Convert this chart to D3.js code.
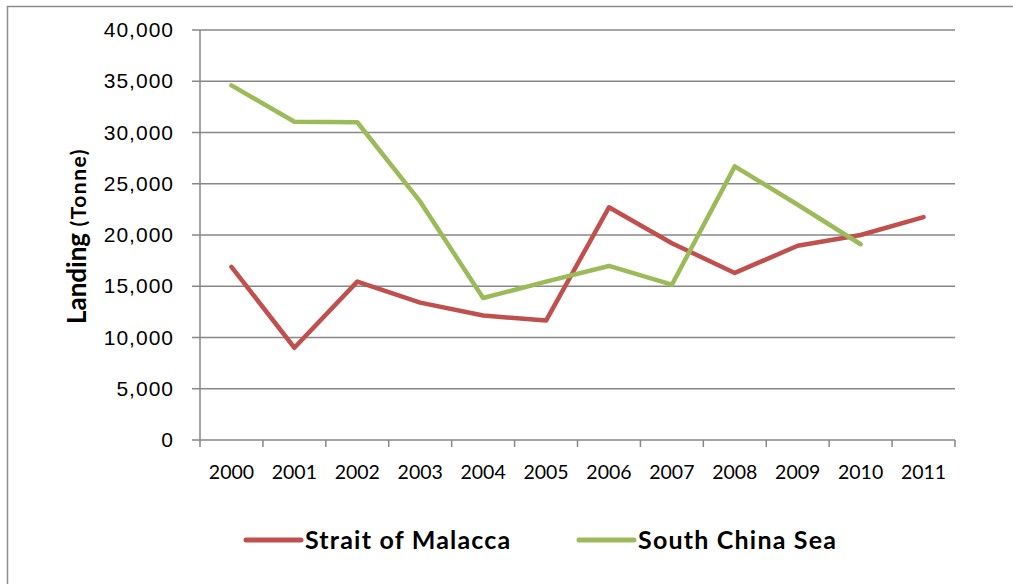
<!DOCTYPE html>
<html>
<head>
<meta charset="utf-8">
<script src="https://cdn.jsdelivr.net/npm/d3@7"></script>
<style>
  body { margin: 0; background: #fff; }
  svg { display: block; font-family: Lato, "Open Sans", sans-serif; }
</style>
</head>
<body>
<svg width="1013" height="584"></svg>
<script>
const years = ["2000", "2001", "2002", "2003", "2004", "2005", "2006", "2007", "2008", "2009", "2010", "2011"];
const malacca = [16900, 9000, 15450, 13400, 12150, 11650, 22700, 19200, 16300, 18950, 20000, 21750];
const southChina = [34600, 31050, 31000, 23250, 13850, 15450, 16980, 15150, 26700, 22950, 19100, null];
const yTicks = [0, 5000, 10000, 15000, 20000, 25000, 30000, 35000, 40000];

const series = [
  { name: "Strait of Malacca", values: malacca, color: "#C0504D" },
  { name: "South China Sea", values: southChina, color: "#9BBB59" }
];

const svg = d3.select("svg");
const width = +svg.attr("width");
const height = +svg.attr("height");
const margin = { top: 30, left: 200, right: 58, bottom: 144 };

// outer chart frame (right/bottom edges are off the picture)
svg.append("rect")
  .attr("x", 7.5).attr("y", 6.5)
  .attr("width", width + 10).attr("height", height + 10)
  .attr("fill", "none").attr("stroke", "#8c8c8c").attr("stroke-width", 1.5);

const x = d3.scaleBand()
  .domain(years)
  .range([margin.left, width - margin.right]);

const y = d3.scaleLinear()
  .domain([0, 40000])
  .range([height - margin.bottom, margin.top]);

const grey = "#878787";

// gridlines
svg.append("g")
  .selectAll("line")
  .data(yTicks)
  .join("line")
  .attr("x1", margin.left - 8)
  .attr("x2", width - margin.right)
  .attr("y1", (d) => y(d))
  .attr("y2", (d) => y(d))
  .attr("stroke", grey)
  .attr("stroke-width", 1.5);

// y axis
svg.append("g")
  .attr("transform", `translate(${margin.left},0)`)
  .call(d3.axisLeft(y).tickValues(yTicks).tickSize(8).tickPadding(18).tickFormat(d3.format(",")))
  .call((g) => g.select(".domain").attr("stroke", grey).attr("stroke-width", 1.5).attr("d", `M0,${y(0)}V${y(40000)}`))
  .call((g) => g.selectAll(".tick line").remove())
  .call((g) => g.selectAll(".tick text")
    .attr("fill", "#000")
    .style("font-size", "21px")
    .style("letter-spacing", "1px"));

// x axis: ticks between categories
const xAxis = svg.append("g")
  .attr("transform", `translate(0,${y(0)})`);

xAxis.selectAll("line")
  .data(years.concat(["end"]))
  .join("line")
  .attr("x1", (d, i) => margin.left + i * x.bandwidth())
  .attr("x2", (d, i) => margin.left + i * x.bandwidth())
  .attr("y1", 0)
  .attr("y2", 7)
  .attr("stroke", grey)
  .attr("stroke-width", 1.5);

xAxis.selectAll("text")
  .data(years)
  .join("text")
  .attr("x", (d) => x(d) + x.bandwidth() / 2)
  .attr("y", 39)
  .attr("text-anchor", "middle")
  .style("font-size", "19.5px")
  .text((d) => d);

// y title
svg.append("text")
  .attr("transform", "translate(86,236) rotate(-90)")
  .attr("text-anchor", "middle")
  .style("font-weight", "bold")
  .call((t) => t.append("tspan").style("font-size", "26px").text("Landing "))
  .call((t) => t.append("tspan").style("font-size", "21px").style("letter-spacing", "1.5px").text("(Tonne)"));

// lines
const line = d3.line()
  .defined((d) => d != null)
  .x((d, i) => x(years[i]) + x.bandwidth() / 2)
  .y((d) => y(d));

svg.append("g")
  .selectAll("path")
  .data(series)
  .join("path")
  .attr("fill", "none")
  .attr("stroke", (d) => d.color)
  .attr("stroke-width", 4.5)
  .attr("stroke-linejoin", "round")
  .attr("stroke-linecap", "round")
  .attr("d", (d) => line(d.values));

// legend
const legendX = [246, 579];
const legend = svg.append("g")
  .selectAll("g")
  .data(series)
  .join("g")
  .attr("transform", (d, i) => `translate(${legendX[i]},540)`);

legend.append("line")
  .attr("x1", 0).attr("x2", 55)
  .attr("stroke", (d) => d.color)
  .attr("stroke-width", 5)
  .attr("stroke-linecap", "round");

legend.append("text")
  .attr("x", 59)
  .attr("dy", "0.36em")
  .style("font-size", "25px")
  .style("font-weight", "bold")
  .style("letter-spacing", "1.2px")
  .text((d) => d.name);
</script>
</body>
</html>
